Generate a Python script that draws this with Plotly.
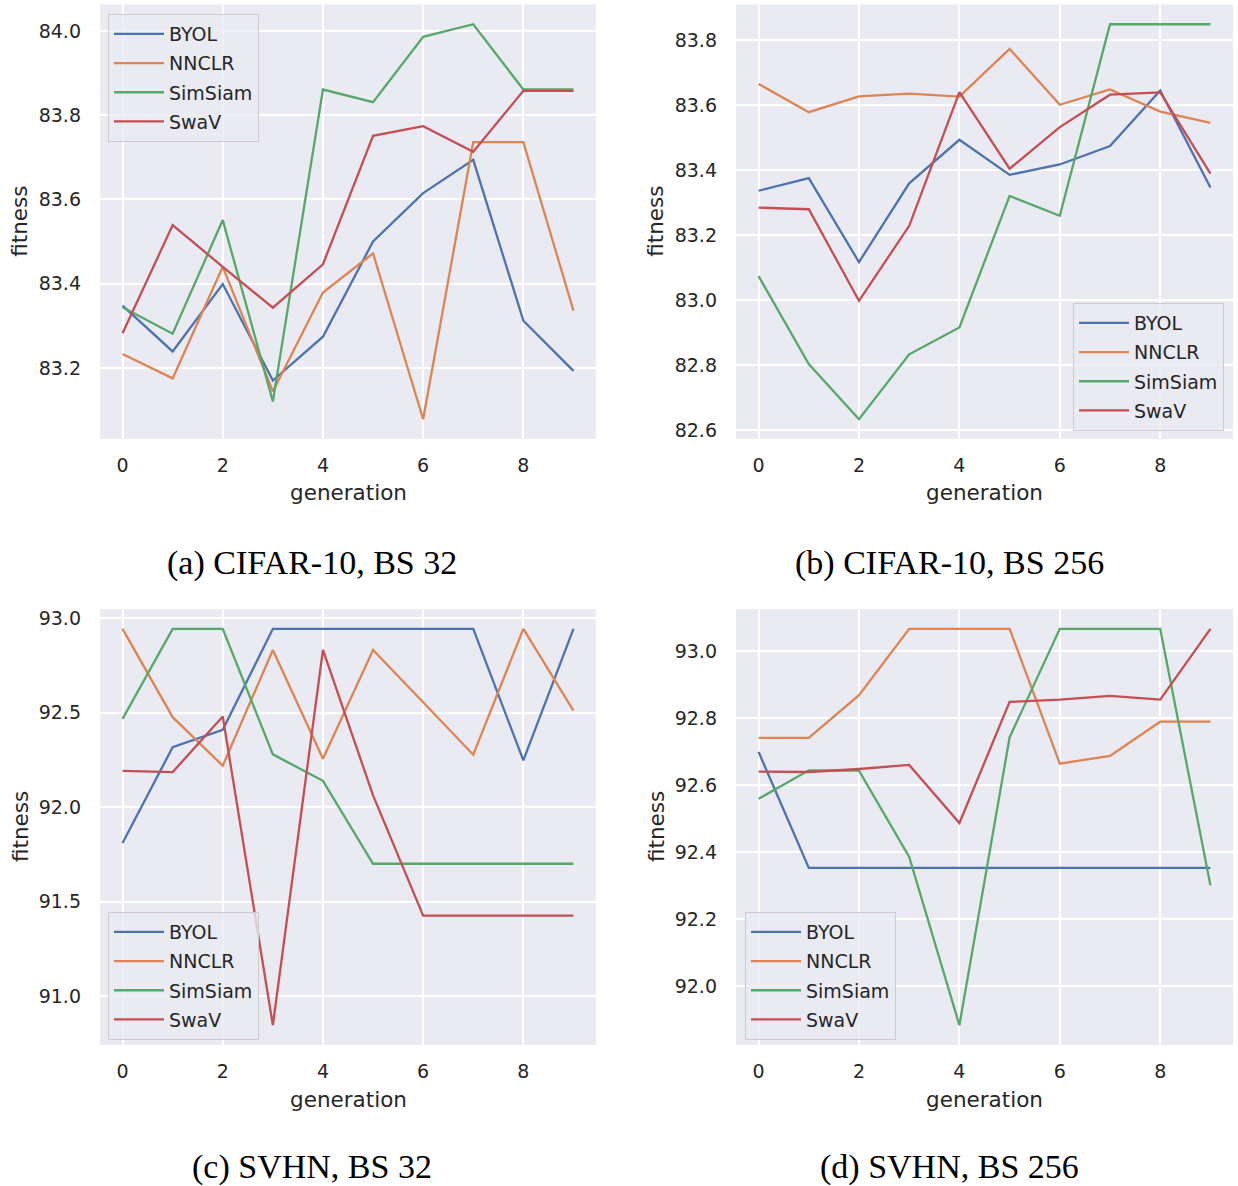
import plotly.graph_objects as go

generations = list(range(10))
methods = ["BYOL", "NNCLR", "SimSiam", "SwaV"]
colors = ["#4C72B0", "#DD8452", "#55A868", "#C44E52"]

# (a) CIFAR-10, BS 32
a_byol = [83.348, 83.239, 83.399, 83.170, 83.274, 83.500, 83.615, 83.694, 83.312, 83.193]
a_nnclr = [83.233, 83.175, 83.440, 83.144, 83.379, 83.472, 83.078, 83.736, 83.736, 83.336]
a_simsiam = [83.344, 83.281, 83.551, 83.120, 83.861, 83.831, 83.986, 84.016, 83.861, 83.861]
a_swav = [83.282, 83.539, 83.440, 83.343, 83.446, 83.751, 83.774, 83.713, 83.858, 83.858]

# (b) CIFAR-10, BS 256
b_byol = [83.337, 83.376, 83.117, 83.360, 83.494, 83.386, 83.418, 83.475, 83.646, 83.347]
b_nnclr = [83.666, 83.579, 83.628, 83.636, 83.627, 83.774, 83.602, 83.649, 83.581, 83.546]
b_simsiam = [83.074, 82.803, 82.633, 82.833, 82.916, 83.321, 83.260, 83.850, 83.850, 83.850]
b_swav = [83.285, 83.280, 82.998, 83.229, 83.641, 83.405, 83.533, 83.633, 83.640, 83.390]

# (c) SVHN, BS 32
c_byol = [91.810, 92.317, 92.409, 92.944, 92.944, 92.944, 92.944, 92.944, 92.247, 92.944]
c_nnclr = [92.944, 92.476, 92.219, 92.832, 92.256, 92.832, 92.555, 92.277, 92.944, 92.511]
c_simsiam = [92.467, 92.944, 92.944, 92.279, 92.139, 91.700, 91.700, 91.700, 91.700, 91.700]
c_swav = [92.192, 92.185, 92.480, 90.845, 92.832, 92.062, 91.425, 91.425, 91.425, 91.425]

# (d) SVHN, BS 256
d_byol = [92.699, 92.353, 92.353, 92.353, 92.353, 92.353, 92.353, 92.353, 92.353, 92.353]
d_nnclr = [92.741, 92.741, 92.868, 93.066, 93.066, 93.066, 92.664, 92.687, 92.789, 92.789]
d_simsiam = [92.559, 92.644, 92.643, 92.386, 91.884, 92.742, 93.066, 93.066, 93.066, 92.301]
d_swav = [92.640, 92.639, 92.648, 92.660, 92.487, 92.848, 92.855, 92.866, 92.855, 93.066]

captions = ["(a) CIFAR-10, BS 32", "(b) CIFAR-10, BS 256", "(c) SVHN, BS 32", "(d) SVHN, BS 256"]
y_dticks = [0.2, 0.2, 0.5, 0.2]
x_label = "generation"
y_label = "fitness"

panels = [
    [a_byol, a_nnclr, a_simsiam, a_swav],
    [b_byol, b_nnclr, b_simsiam, b_swav],
    [c_byol, c_nnclr, c_simsiam, c_swav],
    [d_byol, d_nnclr, d_simsiam, d_swav],
]

W, H = 1238, 1186
TXT = "#262626"
BG = "#EAEAF2"

# layout geometry (pixels)
x_doms_px = [(100, 596), (736, 1233), (100, 596), (736, 1233)]
y_doms_px = [(4.5, 439), (4.5, 439), (609, 1045), (609, 1045)]
legend_pos = [  # x, y (pixels), xanchor, yanchor
    (108, 14, "left", "top"),
    (1224, 431, "right", "bottom"),
    (108, 912, "left", "top"),
    (745, 912, "left", "top"),
]
caption_pos = [(312, 563), (949, 563), (312, 1167), (949, 1167)]

fig = go.Figure()
layout = dict(
    width=W, height=H,
    margin=dict(l=0, r=0, t=0, b=0),
    paper_bgcolor="white",
    plot_bgcolor=BG,
    font=dict(family="DejaVu Sans", color=TXT, size=19),
    showlegend=True,
    annotations=[],
)

for p in range(4):
    ax = "" if p == 0 else str(p + 1)
    leg = "legend" if p == 0 else f"legend{p + 1}"
    for m, name in enumerate(methods):
        fig.add_trace(go.Scatter(
            x=generations, y=panels[p][m], mode="lines", name=name,
            line=dict(color=colors[m], width=2.3),
            xaxis=f"x{ax}", yaxis=f"y{ax}", legend=leg,
            legendgroup=f"p{p}_{name}",
        ))
    allv = [v for s in panels[p] for v in s]
    lo, hi = min(allv), max(allv)
    pad = 0.05 * (hi - lo)
    x0, x1 = x_doms_px[p]
    yt, yb = y_doms_px[p]
    layout[f"xaxis{ax}"] = dict(
        domain=[x0 / W, x1 / W], anchor=f"y{ax}",
        range=[-0.45, 9.45], tick0=0, dtick=2,
        showgrid=True, gridcolor="white", gridwidth=1.6,
        zeroline=False, showline=False, ticks="", ticklabelstandoff=13,
        tickfont=dict(size=19, color=TXT), automargin=False,
    )
    layout[f"yaxis{ax}"] = dict(
        domain=[1 - yb / H, 1 - yt / H], anchor=f"x{ax}",
        range=[lo - pad, hi + pad], dtick=y_dticks[p], tickformat=".1f",
        showgrid=True, gridcolor="white", gridwidth=1.6,
        zeroline=False, showline=False, ticks="", ticklabelstandoff=18,
        tickfont=dict(size=19, color=TXT), automargin=False,
    )
    lx, ly, xa, ya = legend_pos[p]
    layout[leg] = dict(
        x=lx / W, y=1 - ly / H, xanchor=xa, yanchor=ya,
        xref="paper", yref="paper",
        bgcolor="rgba(234,234,242,0.8)", bordercolor="#CCCCCC", borderwidth=1,
        font=dict(size=19, color=TXT), tracegroupgap=1.5,
        traceorder="grouped", itemwidth=50,
    )
    # axis labels
    xc = (x0 + x1) / 2
    layout["annotations"].append(dict(
        text=x_label, x=xc / W, y=1 - (yb + 54) / H, xref="paper", yref="paper",
        showarrow=False, font=dict(size=21.5, color=TXT), xanchor="center", yanchor="middle",
    ))
    layout["annotations"].append(dict(
        text=y_label, x=(x0 - 80) / W, y=1 - ((yt + yb) / 2) / H, xref="paper", yref="paper",
        showarrow=False, textangle=-90, font=dict(size=21.5, color=TXT),
        xanchor="center", yanchor="middle",
    ))
    cx, cy = caption_pos[p]
    layout["annotations"].append(dict(
        text=captions[p], x=cx / W, y=1 - cy / H, xref="paper", yref="paper",
        showarrow=False, font=dict(size=34, color="black", family="Liberation Serif"),
        xanchor="center", yanchor="middle",
    ))

fig.update_layout(**layout)
fig.write_html("out.html", config={"displayModeBar": False},
               post_script="document.body.style.margin='0px';")
